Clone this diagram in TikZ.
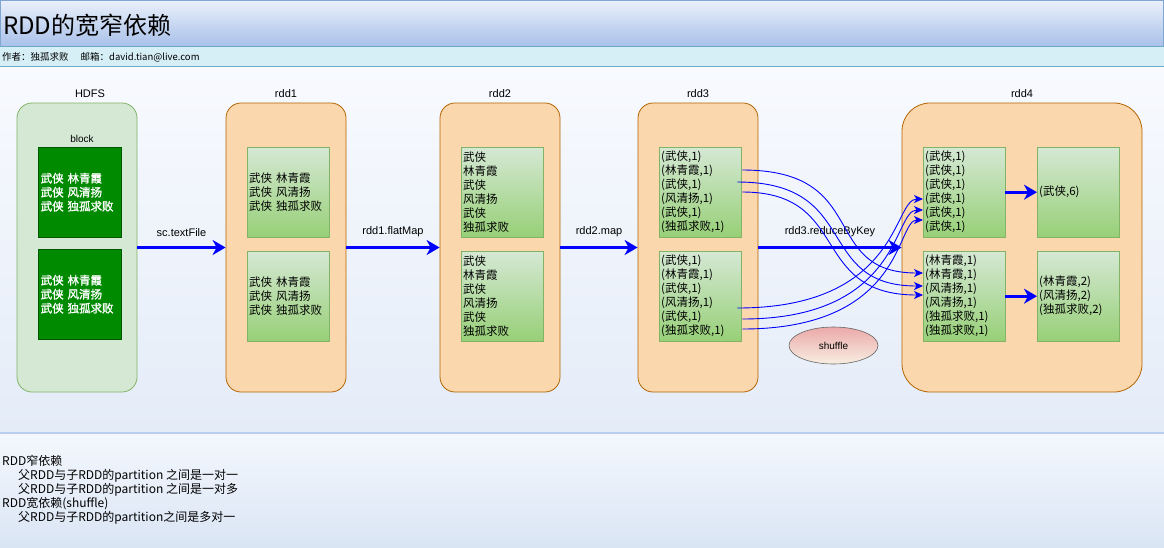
\documentclass[tikz,border=0pt]{standalone}
\usepackage{fontspec}
\setmainfont{Liberation Sans}
\newfontfamily\cjk{Noto Sans CJK SC}
\newfontfamily\cjkheavy[FakeBold=1.5]{Noto Sans CJK SC}
\usetikzlibrary{arrows.meta,shapes.geometric,calc}

\definecolor{titletop}{HTML}{EAF0FB}
\definecolor{titlebot}{HTML}{A9C1E9}
\definecolor{titleline}{HTML}{7EA6D0}
\definecolor{subfill}{HTML}{D6EEF5}
\definecolor{subline}{HTML}{6EA9CC}
\definecolor{maintop}{HTML}{F8FAFE}
\definecolor{mainbot}{HTML}{E4ECF8}
\definecolor{foottop}{HTML}{F4F8FE}
\definecolor{footbot}{HTML}{DAE5F4}
\definecolor{footline}{HTML}{B9CDEC}
\definecolor{hdfsfill}{HTML}{D5E8D4}
\definecolor{hdfsline}{HTML}{82B366}
\definecolor{rddfill}{HTML}{FAD7AC}
\definecolor{rddline}{HTML}{B46504}
\definecolor{blockfill}{HTML}{008A00}
\definecolor{blockline}{HTML}{005700}
\definecolor{parttop}{HTML}{D5E8D4}
\definecolor{partbot}{HTML}{97D077}
\definecolor{shuftop}{HTML}{EBA9A9}
\definecolor{shufbot}{HTML}{F8EEE2}
\definecolor{flowblue}{HTML}{0000FF}

\begin{document}
\begin{tikzpicture}[x=1pt,y=-1pt,
  container/.style={draw=rddline, fill=rddfill, line width=0.8pt,
    rounded corners=15pt, minimum width=120pt, minimum height=289pt, inner sep=0pt},
  hdfsbox/.style={container, draw=hdfsline, fill=hdfsfill},
  lbl/.style={font=\fontsize{11}{13}\selectfont, inner sep=0pt},
  blockbox/.style={draw=blockline, fill=blockfill, text=white, anchor=north west,
    minimum width=83pt, minimum height=90pt, text width=78pt, inner xsep=2.5pt,
    inner ysep=0pt, align=left, font=\cjkheavy\fontsize{11.5}{14}\selectfont},
  part/.style={draw=hdfsline, top color=parttop, bottom color=partbot, anchor=north west,
    minimum width=82pt, minimum height=90pt, text width=78pt, inner xsep=2pt,
    inner ysep=0pt, align=left, font=\cjk\fontsize{11.5}{14}\selectfont},
  flow/.style={draw=flowblue, line width=3pt,
    -{Stealth[length=13pt,width=15pt,inset=4pt]}},
  shuf/.style={draw=flowblue, line width=0.9pt,
    -{Stealth[length=9pt,width=8pt,inset=2.5pt]}},
  flowlbl/.style={font=\fontsize{11}{13}\selectfont, above=9pt, inner sep=0pt}
]
\useasboundingbox (0,0) rectangle (1164,547);

% page bands: title, author line, diagram area, notes
\shade[top color=maintop, bottom color=mainbot] (0,66) rectangle (1164,433);
\shade[top color=foottop, bottom color=footbot] (0,433) rectangle (1164,547);
\draw[footline, line width=1.2pt] (0,433) -- (1164,433);
\shade[top color=titletop, bottom color=titlebot] (0,0) rectangle (1164,46);
\draw[titleline, line width=0.8pt] (0.4,0.4) rectangle (1163.6,46);
\fill[subfill] (0,46) rectangle (1164,66);
\draw[subline, line width=0.8pt] (0,46) -- (1164,46) (0,66) -- (1164,66);

\node[anchor=west, inner sep=0pt, font=\cjk\fontsize{24}{27}\selectfont] (title) at (3,25) {RDD的宽窄依赖};
\node[anchor=west, inner sep=0pt, font=\cjk\fontsize{9.5}{11}\selectfont] (author) at (2,57)
  {作者：独孤求败\hspace{12pt}邮箱：david.tian@live.com};

% containers
\node[hdfsbox] (hdfs) at (77,247.5) {};
\node[container] (rdd1) at (286,247.5) {};
\node[container] (rdd2) at (500,247.5) {};
\node[container] (rdd3) at (698,247.5) {};
\node[container, minimum width=240pt, rounded corners=28pt] (rdd4) at (1022,247.5) {};

\node[lbl] (lhdfs) at (90,94) {HDFS};
\node[lbl] (lrdd1) at (286,94) {rdd1};
\node[lbl] (lrdd2) at (500,94) {rdd2};
\node[lbl] (lrdd3) at (698,94) {rdd3};
\node[lbl] (lrdd4) at (1022,94) {rdd4};
\node[lbl, font=\fontsize{10}{12}\selectfont] (lblock) at (82,139) {block};

% HDFS blocks
\node[blockbox] (b1) at (38,147) {武侠 林青霞\\武侠 风清扬\\武侠 独孤求败};
\node[blockbox] (b2) at (38,249) {武侠 林青霞\\武侠 风清扬\\武侠 独孤求败};

% rdd1 partitions
\node[part] (r1a) at (247,147) {武侠 林青霞\\武侠 风清扬\\武侠 独孤求败};
\node[part] (r1b) at (247,251) {武侠 林青霞\\武侠 风清扬\\武侠 独孤求败};

% rdd2 partitions
\node[part] (r2a) at (461,147) {武侠\\林青霞\\武侠\\风清扬\\武侠\\独孤求败};
\node[part] (r2b) at (461,251) {武侠\\林青霞\\武侠\\风清扬\\武侠\\独孤求败};

% rdd3 partitions
\node[part] (r3a) at (659,147) {(武侠,1)\\(林青霞,1)\\(武侠,1)\\(风清扬,1)\\(武侠,1)\\(独孤求败,1)};
\node[part] (r3b) at (659,251) {(武侠,1)\\(林青霞,1)\\(武侠,1)\\(风清扬,1)\\(武侠,1)\\(独孤求败,1)};

% rdd4 partitions
\node[part] (r4a) at (923,147) {(武侠,1)\\(武侠,1)\\(武侠,1)\\(武侠,1)\\(武侠,1)\\(武侠,1)};
\node[part] (r4b) at (923,251) {(林青霞,1)\\(林青霞,1)\\(风清扬,1)\\(风清扬,1)\\(独孤求败,1)\\(独孤求败,1)};
\node[part] (r4c) at (1037,147) {(武侠,6)};
\node[part] (r4d) at (1037,251) {(林青霞,2)\\(风清扬,2)\\(独孤求败,2)};

% transformations
\draw[flow] (hdfs) -- node[flowlbl] (t1lbl) {sc.textFile} (rdd1);
\draw[flow] (rdd1) -- node[flowlbl] (t2lbl) {rdd1.flatMap} (rdd2);
\draw[flow] (rdd2) -- node[flowlbl] (t3lbl) {rdd2.map} (rdd3);
\draw[flow] (rdd3) -- node[flowlbl] (t4lbl) {rdd3.reduceByKey} (rdd4);
\draw[flow] (r4a) -- (r4c);
\draw[flow] (r4b) -- (r4d);

% shuffle records
\coordinate (s1) at ($(r3a.north east)+(1,23)$);
\coordinate (s2) at ($(r3a.north east)+(-4,35)$);
\coordinate (s3) at ($(r3a.north east)+(1,45)$);
\coordinate (s4) at ($(r3b.north east)+(-4,57)$);
\coordinate (s5) at ($(r3b.north east)+(1,68)$);
\coordinate (s6) at ($(r3b.north east)+(1,78)$);
\coordinate (e1) at ($(r4b.north west)+(0,22)$);
\coordinate (e2) at ($(r4b.north west)+(0,35)$);
\coordinate (e3) at ($(r4b.north west)+(0,44)$);
\coordinate (e4) at ($(r4a.north west)+(0,52)$);
\coordinate (e5) at ($(r4a.north west)+(0,63)$);
\coordinate (e6) at ($(r4a.north west)+(0,73)$);

\draw[shuf] (s1) .. controls ($(s1)+(130,0)$) and ($(e1)+(-105,0)$) .. (e1);
\draw[shuf] (s2) .. controls ($(s2)+(125,0)$) and ($(e2)+(-110,0)$) .. (e2);
\draw[shuf] (s3) .. controls ($(s3)+(110,0)$) and ($(e3)+(-115,0)$) .. (e3);
\draw[shuf] (s4) .. controls ($(s4)+(163,0)$) and ($(e4)+(-30,0)$) .. (e4);
\draw[shuf] (s5) .. controls ($(s5)+(160,0)$) and ($(e5)+(-30,0)$) .. (e5);
\draw[shuf] (s6) .. controls ($(s6)+(163,0)$) and ($(e6)+(-27,0)$) .. (e6);

\node[ellipse, draw=black!60, line width=0.6pt, top color=shuftop, bottom color=shufbot,
  minimum width=89pt, minimum height=37pt, inner sep=0pt,
  font=\fontsize{10}{12}\selectfont] (shuffle) at (833.5,345.5) {shuffle};

% notes
\node[anchor=north west, inner sep=0pt, align=left,
  font=\cjk\fontsize{12}{14}\selectfont] (notes) at (2,455)
  {RDD窄依赖\\
   \hspace*{16pt}父RDD与子RDD的partition 之间是一对一\\
   \hspace*{16pt}父RDD与子RDD的partition 之间是一对多\\
   RDD宽依赖(shuffle)\\
   \hspace*{16pt}父RDD与子RDD的partition之间是多对一};
\end{tikzpicture}
\end{document}
